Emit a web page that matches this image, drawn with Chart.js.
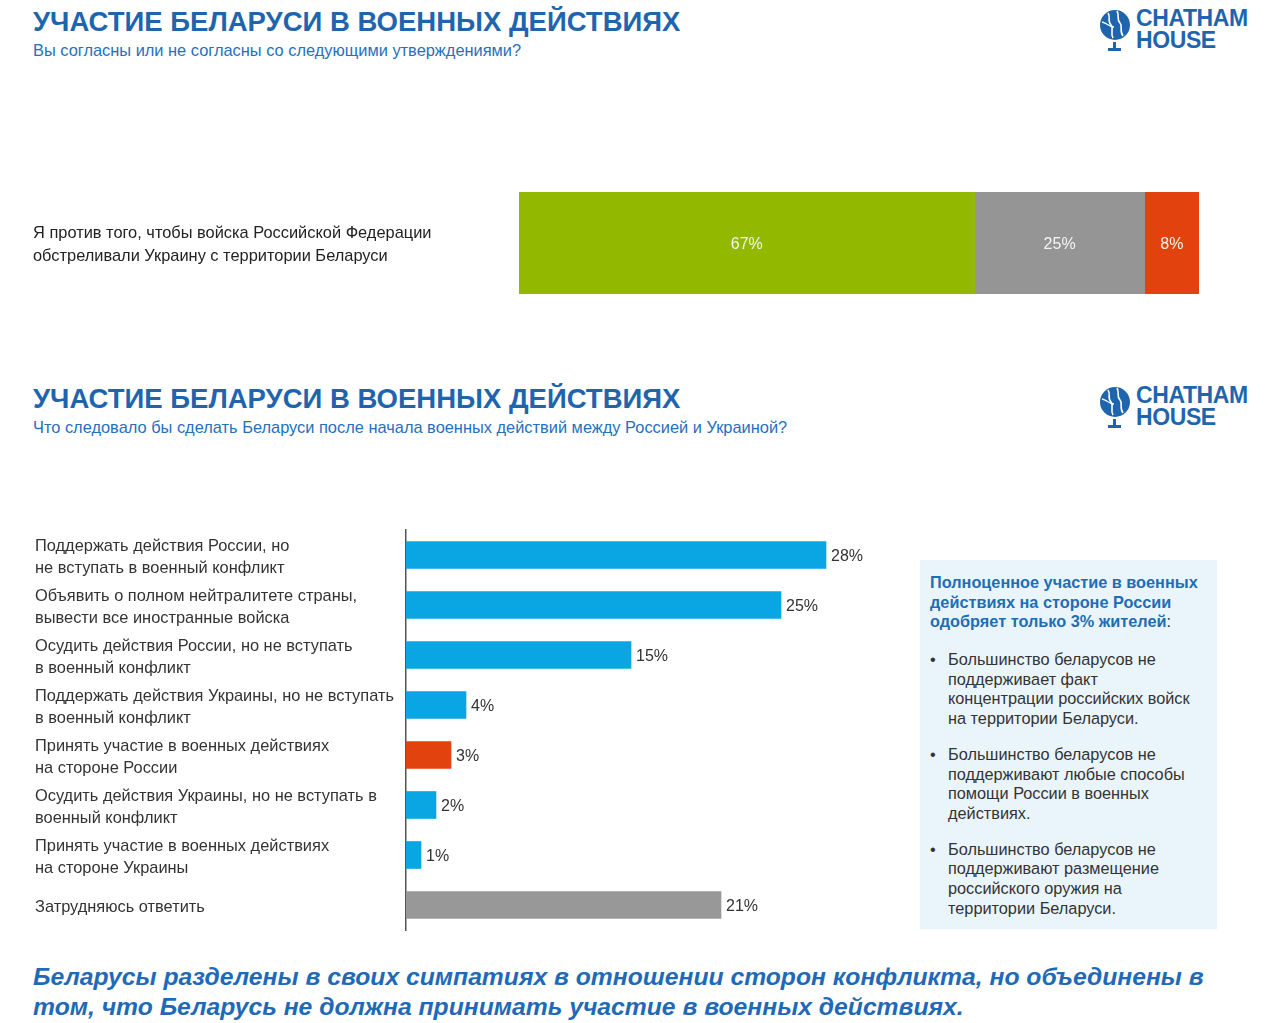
<!DOCTYPE html>
<html lang="ru">
<head>
<meta charset="utf-8">
<script src="https://cdn.jsdelivr.net/npm/chart.js@4.4.1/dist/chart.umd.min.js"></script>
<style>
  html, body { margin: 0; padding: 0; background: #ffffff; }
  body { width: 1280px; height: 1023px; position: relative; overflow: hidden; font-family: "Liberation Sans", Arial, sans-serif; }
  .title { position: absolute; left: 33px; font-weight: bold; font-size: 27.5px; color: #1f65ae; white-space: nowrap; }
  .sub { position: absolute; left: 33px; font-size: 16.4px; color: #2570bd; white-space: nowrap; }
  .logo { position: absolute; left: 1099px; width: 160px; height: 48px; }
  .logo svg { position: absolute; left: 0; top: 0; }
  .logo .lt { position: absolute; left: 37px; top: 0px; font-weight: bold; font-size: 23px; line-height: 22px; color: #1f65ae; letter-spacing: -0.4px; }
  .box { position: absolute; left: 920px; top: 560px; width: 297px; height: 369px; background: #eaf5fb; }
  .box .hd { position: absolute; left: 10px; top: 13px; font-weight: bold; font-size: 16.3px; line-height: 19.5px; color: #1f6db5; white-space: nowrap; }
  .box .hd span { color: #333; font-weight: normal; }
  .box ul { position: absolute; left: 10px; top: 90px; margin: 0; padding: 0; list-style: none; width: 290px; }
  .box li { position: relative; padding-left: 18px; font-size: 16.3px; line-height: 19.7px; color: #333; margin-bottom: 16px; white-space: nowrap; }
  .box li::before { content: "•"; position: absolute; left: 0; top: 0; }
  .foot { position: absolute; left: 33px; top: 962px; font-weight: bold; font-style: italic; font-size: 24.7px; line-height: 30px; color: #1f6ab8; white-space: nowrap; }
  canvas { position: absolute; left: 0; }
</style>
</head>
<body>
<div class="title" style="top:6px">УЧАСТИЕ БЕЛАРУСИ В ВОЕННЫХ ДЕЙСТВИЯХ</div>
<div class="sub" style="top:41px">Вы согласны или не согласны со следующими утверждениями?</div>
<div class="logo" style="top:7px">
  <svg width="36" height="46" viewBox="0 0 36 46">
    <circle cx="16" cy="18" r="15" fill="#1f65ae"/>
    <path d="M9 6 C12 10 8 14 12 18 C15 21 11 26 14 31" stroke="#fff" stroke-width="1.6" fill="none"/>
    <path d="M18 4 C21 9 17 12 21 16 C24 19 20 24 24 29" stroke="#fff" stroke-width="1.6" fill="none"/>
    <path d="M3 15 C8 16 10 20 15 20" stroke="#fff" stroke-width="1.3" fill="none"/>
    <rect x="14" y="35" width="3" height="6" fill="#1f65ae"/>
    <rect x="9" y="41" width="13" height="3" fill="#1f65ae"/>
  </svg>
  <div class="lt">CHATHAM<br>HOUSE</div>
</div>

<canvas id="c1" width="1280" height="190" style="top:150px;width:1280px;height:190px"></canvas>

<div class="title" style="top:383px">УЧАСТИЕ БЕЛАРУСИ В ВОЕННЫХ ДЕЙСТВИЯХ</div>
<div class="sub" style="top:418px">Что следовало бы сделать Беларуси после начала военных действий между Россией и Украиной?</div>
<div class="logo" style="top:384px">
  <svg width="36" height="46" viewBox="0 0 36 46">
    <circle cx="16" cy="18" r="15" fill="#1f65ae"/>
    <path d="M9 6 C12 10 8 14 12 18 C15 21 11 26 14 31" stroke="#fff" stroke-width="1.6" fill="none"/>
    <path d="M18 4 C21 9 17 12 21 16 C24 19 20 24 24 29" stroke="#fff" stroke-width="1.6" fill="none"/>
    <path d="M3 15 C8 16 10 20 15 20" stroke="#fff" stroke-width="1.3" fill="none"/>
    <rect x="14" y="35" width="3" height="6" fill="#1f65ae"/>
    <rect x="9" y="41" width="13" height="3" fill="#1f65ae"/>
  </svg>
  <div class="lt">CHATHAM<br>HOUSE</div>
</div>

<canvas id="c2" width="900" height="450" style="top:505px;width:900px;height:450px"></canvas>

<div class="box">
  <div class="hd">Полноценное участие в военных<br>действиях на стороне России<br>одобряет только 3% жителей<span>:</span></div>
  <ul>
    <li>Большинство беларусов не<br>поддерживает факт<br>концентрации российских войск<br>на территории Беларуси.</li>
    <li>Большинство беларусов не<br>поддерживают любые способы<br>помощи России в военных<br>действиях.</li>
    <li>Большинство беларусов не<br>поддерживают размещение<br>российского оружия на<br>территории Беларуси.</li>
  </ul>
</div>

<div class="foot">Беларусы разделены в своих симпатиях в отношении сторон конфликта, но объединены в<br>том, что Беларусь не должна принимать участие в военных действиях.</div>

<script>
// ---- Data: chart 1 (stacked) ----
const stackCategories = [['Я против того, чтобы войска Российской Федерации', 'обстреливали Украину с территории Беларуси']];
const stackSeriesNames = ['Согласны', 'Затрудняюсь ответить', 'Не согласны'];
const stackValues = [67, 25, 8];
const stackColors = ['#92b800', '#959595', '#e2430e'];

// ---- Data: chart 2 (horizontal bars) ----
const actionLabels = [
  ['Поддержать действия России, но', 'не вступать в военный конфликт'],
  ['Объявить о полном нейтралитете страны,', 'вывести все иностранные войска'],
  ['Осудить действия России, но не вступать', 'в военный конфликт'],
  ['Поддержать действия Украины, но не вступать', 'в военный конфликт'],
  ['Принять участие в военных действиях', 'на стороне России'],
  ['Осудить действия Украины, но не вступать в', 'военный конфликт'],
  ['Принять участие в военных действиях', 'на стороне Украины'],
  'Затрудняюсь ответить'
];
const actionValues = [28, 25, 15, 4, 3, 2, 1, 21];
const actionColors = ['#0aa5e3', '#0aa5e3', '#0aa5e3', '#0aa5e3', '#e2430e', '#0aa5e3', '#0aa5e3', '#989898'];

const FONT = '"Liberation Sans", Arial, sans-serif';

const insideLabels = {
  id: 'insideLabels',
  afterDatasetsDraw(chart) {
    const ctx = chart.ctx;
    ctx.save();
    ctx.font = '16px ' + FONT;
    ctx.fillStyle = '#f4f4f4';
    ctx.textAlign = 'center';
    ctx.textBaseline = 'middle';
    chart.data.datasets.forEach((ds, i) => {
      chart.getDatasetMeta(i).data.forEach((el, j) => {
        const props = el.getProps(['x', 'y', 'base'], true);
        ctx.fillText(ds.data[j] + '%', (props.x + props.base) / 2, props.y + 2);
      });
    });
    ctx.restore();
  }
};

const endLabels = {
  id: 'endLabels',
  afterDatasetsDraw(chart) {
    const ctx = chart.ctx;
    ctx.save();
    ctx.font = '16px ' + FONT;
    ctx.fillStyle = '#333333';
    ctx.textAlign = 'left';
    ctx.textBaseline = 'middle';
    const ds = chart.data.datasets[0];
    chart.getDatasetMeta(0).data.forEach((el, j) => {
      const props = el.getProps(['x', 'y'], true);
      ctx.fillText(ds.data[j] + '%', props.x + 5, props.y + 2);
    });
    ctx.restore();
  }
};

new Chart(document.getElementById('c1'), {
  type: 'bar',
  data: {
    labels: stackCategories,
    datasets: stackSeriesNames.map((n, i) => ({
      label: n,
      data: [stackValues[i]],
      backgroundColor: stackColors[i],
      barPercentage: 1,
      categoryPercentage: 1
    }))
  },
  options: {
    indexAxis: 'y',
    responsive: false,
    animation: false,
    layout: { padding: { left: 33, right: 81, top: 42, bottom: 46 } },
    plugins: { legend: { display: false }, tooltip: { enabled: false } },
    scales: {
      x: { stacked: true, min: 0, max: 100, display: false },
      y: {
        stacked: true,
        grid: { display: false },
        border: { display: false },
        afterFit(s) { s.width = 519 - 33; },
        ticks: { crossAlign: 'far', color: '#222', padding: 0, labelOffset: 2, font: { family: FONT, size: 16.4, lineHeight: 1.36 } }
      }
    }
  },
  plugins: [insideLabels]
});

new Chart(document.getElementById('c2'), {
  type: 'bar',
  data: {
    labels: actionLabels,
    datasets: [{
      label: 'Ответы',
      data: actionValues,
      backgroundColor: actionColors,
      barThickness: 27
    }]
  },
  options: {
    indexAxis: 'y',
    responsive: false,
    animation: false,
    layout: { padding: { left: 35, right: 14, top: 25, bottom: 25 } },
    plugins: { legend: { display: false }, tooltip: { enabled: false } },
    scales: {
      x: { min: 0, max: 32, display: false },
      y: {
        grid: { display: false, drawTicks: false },
        border: { display: true, color: '#555', width: 1.5 },
        afterFit(s) { s.width = 406 - 35; },
        ticks: { crossAlign: 'far', color: '#333', padding: 0, labelOffset: 2, font: { family: FONT, size: 16.4, lineHeight: 1.34 } }
      }
    }
  },
  plugins: [endLabels]
});
</script>
</body>
</html>
